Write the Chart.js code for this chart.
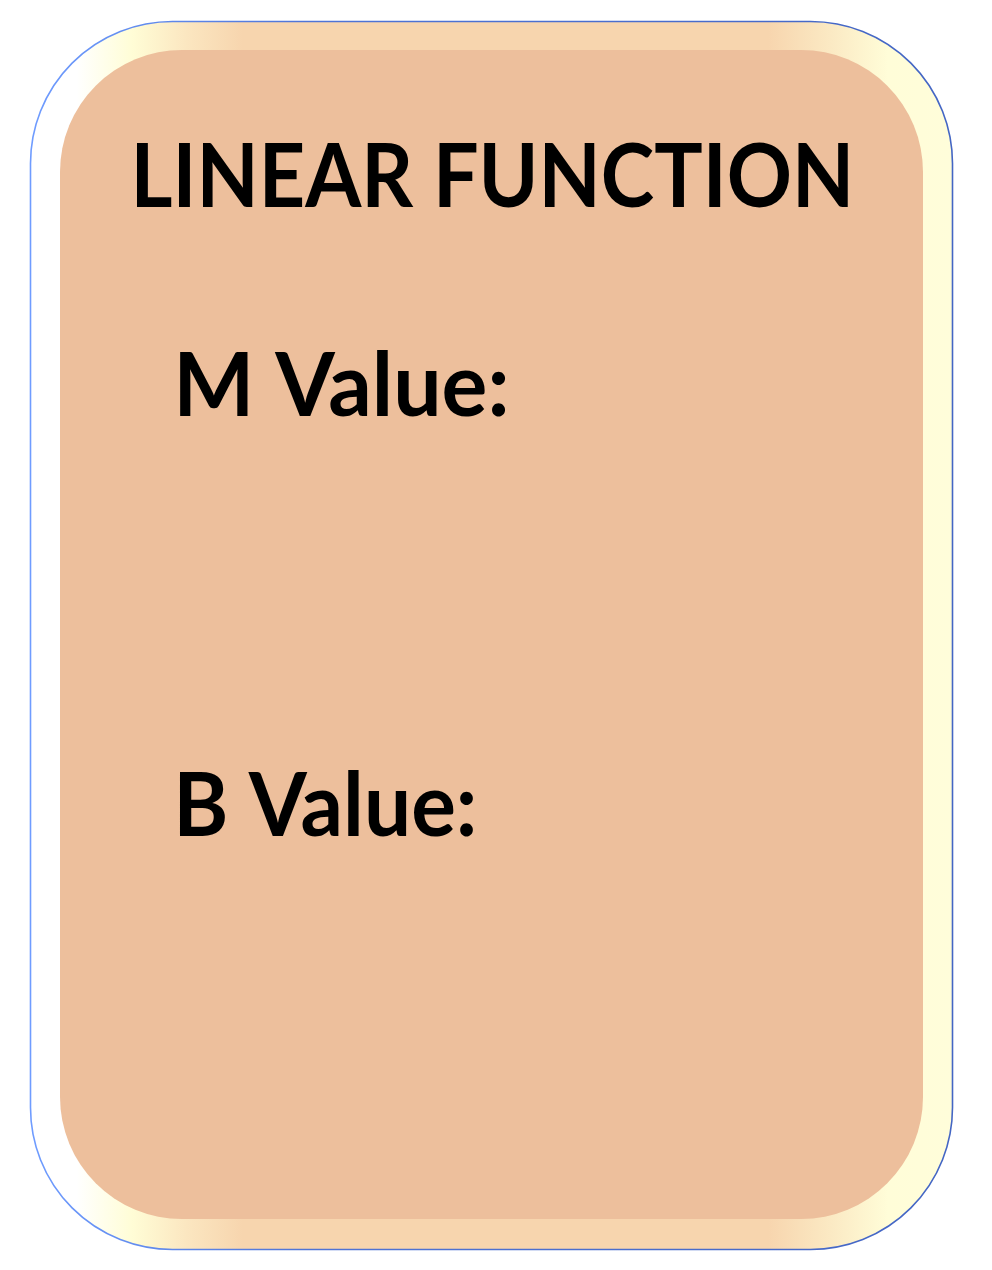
<!DOCTYPE html>
<html>
<head>
<meta charset="utf-8">
<script src="https://cdn.jsdelivr.net/npm/chart.js@4.4.1/dist/chart.umd.min.js"></script>
<style>
  html, body { margin: 0; padding: 0; background: #ffffff; }
  #wrap { width: 992px; height: 1270px; position: relative; }
  canvas { display: block; }
</style>
</head>
<body>
<div id="wrap"><canvas id="c" width="992" height="1270"></canvas></div>
<script>
// ---- content (text only; this card has no numeric series) ----
const titleText = "LINEAR FUNCTION";
const fieldLabels = ["M Value:", "B Value:"];
const categories = [];      // no categories on this card
const seriesValues = [];    // no plotted values on this card

function roundRectPath(ctx, x, y, w, h, r) {
  ctx.beginPath();
  ctx.moveTo(x + r, y);
  ctx.lineTo(x + w - r, y);
  ctx.arcTo(x + w, y, x + w, y + r, r);
  ctx.lineTo(x + w, y + h - r);
  ctx.arcTo(x + w, y + h, x + w - r, y + h, r);
  ctx.lineTo(x + r, y + h);
  ctx.arcTo(x, y + h, x, y + h - r, r);
  ctx.lineTo(x, y + r);
  ctx.arcTo(x, y, x + r, y, r);
  ctx.closePath();
}

function fitText(ctx, text, left, baseline, targetW, font) {
  ctx.font = font;
  const m = ctx.measureText(text);
  const w = m.actualBoundingBoxLeft + m.actualBoundingBoxRight;
  const sx = targetW / w;
  ctx.save();
  ctx.translate(left, baseline);
  ctx.scale(sx, 1);
  ctx.fillText(text, m.actualBoundingBoxLeft, 0);
  ctx.restore();
}

const cardPlugin = {
  id: 'card',
  beforeDraw(chart) {
    const ctx = chart.ctx;
    ctx.save();
    // outer frame
    const ox = 30.5, oy = 21.5, ow = 922, oh = 1228, orad = 142;
    const g = ctx.createLinearGradient(ox, 0, ox + ow, 0);
    g.addColorStop(0.0, '#ffffff');
    g.addColorStop(0.05, '#ffffff');
    g.addColorStop(0.11, '#fffdd6');
    g.addColorStop(0.17, '#fbe6c0');
    g.addColorStop(0.23, '#f7d5ae');
    g.addColorStop(0.80, '#f7d5ae');
    g.addColorStop(0.87, '#fbeac4');
    g.addColorStop(0.93, '#fffdd8');
    g.addColorStop(1.0, '#fffdda');
    roundRectPath(ctx, ox, oy, ow, oh, orad);
    ctx.fillStyle = g;
    ctx.fill();
    const sg = ctx.createLinearGradient(ox, 0, ox + ow, 0);
    sg.addColorStop(0, '#6f9cff');
    sg.addColorStop(0.3, '#4f74d6');
    sg.addColorStop(1, '#4466c4');
    ctx.strokeStyle = sg;
    ctx.lineWidth = 1.6;
    ctx.stroke();
    // inner panel
    roundRectPath(ctx, 60, 50, 863, 1169, 122);
    ctx.fillStyle = '#edbf9c';
    ctx.fill();
    // text
    ctx.fillStyle = '#000000';
    ctx.textBaseline = 'alphabetic';
    ctx.textAlign = 'left';
    const font = "bold 88px Lato, 'Noto Sans', sans-serif";
    fitText(ctx, titleText, 137, 207, 711, font);
    fitText(ctx, fieldLabels[0], 180, 416, 325, font);
    fitText(ctx, fieldLabels[1], 180, 836, 293, font);
    ctx.restore();
  }
};

new Chart(document.getElementById('c'), {
  type: 'scatter',
  data: { labels: categories, datasets: [{ data: seriesValues, showLine: false }] },
  options: {
    responsive: false,
    animation: false,
    devicePixelRatio: 1,
    layout: { padding: 0 },
    plugins: { legend: { display: false }, tooltip: { enabled: false }, title: { display: false } },
    scales: { x: { display: false }, y: { display: false } }
  },
  plugins: [cardPlugin]
});
</script>
</body>
</html>
